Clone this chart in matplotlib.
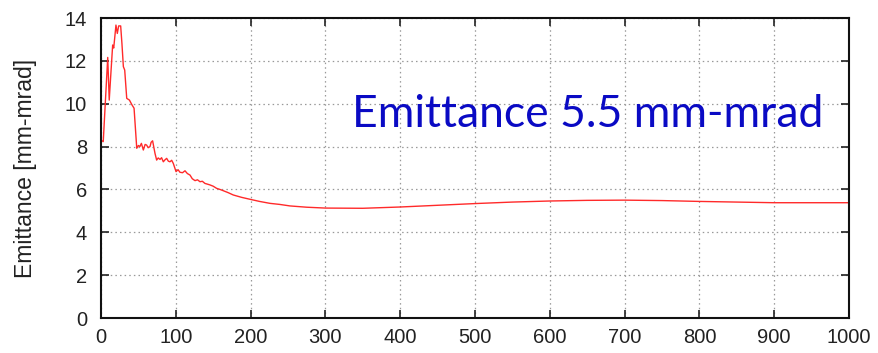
import matplotlib
matplotlib.use("Agg")
import matplotlib.pyplot as plt

# Data
step = [0, 3, 6, 9, 11, 13, 15.6, 17, 20, 21.8, 23.6, 26.3, 28, 29.9, 31.7, 34.4, 38, 41.5, 44.2,
        47.8, 50, 52, 54, 56.6, 59, 61, 63, 65.5, 67, 69, 72.2, 74.4, 76.5, 78.9, 81, 83.3, 85.5,
        87.8, 90, 92.2, 94.5, 96.7, 100.3, 103, 105.6, 109, 112.3, 115.5, 119, 122, 125.7, 129,
        132.3, 135.5, 139, 142, 145.7, 150, 154.6, 159, 163.5, 170, 176.9, 188, 199.2, 212, 225.9,
        239, 252.6, 275, 300, 350, 400, 450, 500, 550, 600, 650, 700, 750, 800, 850, 900, 950, 1000]
emittance = [8.3, 8.23, 10.2, 12.16, 10.17, 11.3, 12.74, 12.6, 13.67, 13.28, 13.63, 13.63, 12.8, 11.73,
             11.57, 10.25, 10.17, 9.94, 9.79,
             7.92, 8.05, 8.0, 8.15, 7.84, 8.1, 8.07, 7.95, 8.0, 8.2, 8.27, 7.68, 7.37, 7.47, 7.40,
             7.48, 7.29, 7.38, 7.45, 7.32, 7.29, 7.36, 7.21, 6.83, 6.92, 6.8, 6.78, 6.87, 6.74,
             6.67, 6.5, 6.41, 6.45, 6.36, 6.38, 6.28, 6.25, 6.21, 6.15, 6.05, 6.0, 5.94, 5.85, 5.74,
             5.63, 5.54, 5.44, 5.35, 5.3, 5.23, 5.17, 5.13, 5.12, 5.18, 5.26, 5.34, 5.41, 5.46, 5.49,
             5.5, 5.48, 5.44, 5.41, 5.38, 5.38, 5.38]

x_ticks = [0, 100, 200, 300, 400, 500, 600, 700, 800, 900, 1000]
y_ticks = [0, 2, 4, 6, 8, 10, 12, 14]
y_label = "Emittance [mm-mrad]"
annotation = "Emittance 5.5 mm-mrad"

plt.rcParams['font.family'] = ['Liberation Sans', 'DejaVu Sans']

fig = plt.figure(figsize=(8.79, 3.53), dpi=100)
ax = fig.add_axes([101 / 879, 1 - 318 / 353, (849 - 101) / 879, (318 - 18) / 353])

ax.plot(step, emittance, color='#ff2a2a', linewidth=1.0)

ax.set_xlim(0, 1000)
ax.set_ylim(0, 14)
ax.set_xticks(x_ticks)
ax.set_yticks(y_ticks)
ax.tick_params(direction='in', length=6, width=1.2, top=True, right=True,
               labelsize=14.5, colors='#222222')
ax.tick_params(axis='y', pad=10)
ax.tick_params(axis='x', pad=7)
ax.grid(True, color='#999999', linestyle=(0, (1.2, 2.5)), linewidth=0.9)
for s in ax.spines.values():
    s.set_linewidth(1.5)
    s.set_color('#111111')

ax.set_ylabel(y_label, fontsize=16.5, color='#222222', labelpad=20)

fig.text(352 / 879, 1 - 127 / 353, annotation, fontsize=32, color='#0a0ac4',
         family=['Lato', 'DejaVu Sans'], va='baseline', ha='left')

fig.savefig("out.png", dpi=100)
